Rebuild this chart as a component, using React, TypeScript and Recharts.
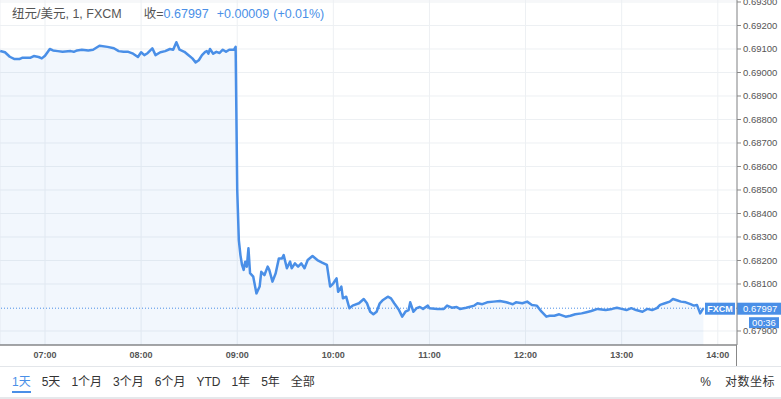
import { ComposedChart, Area, XAxis, YAxis, CartesianGrid, ReferenceLine } from "recharts";

const BLUE = "#4a8fe7";
const FONT = "'Liberation Sans', 'Noto Sans CJK SC', sans-serif";

const pairTitle = "纽元/美元, 1, FXCM";
const closeLabel = "收=";
const lastPrice = 0.67997;
const change = "+0.00009";
const changePct = "(+0.01%)";
const feedName = "FXCM";
const countdown = "00:36";

const rangeButtons = ["1天", "5天", "1个月", "3个月", "6个月", "YTD", "1年", "5年", "全部"];
const rightButtons = ["%", "对数坐标"];

const hourTicks = ["07:00", "08:00", "09:00", "10:00", "11:00", "12:00", "13:00", "14:00"];
const priceTicks = [0.679, 0.681, 0.682, 0.683, 0.684, 0.685, 0.686, 0.687, 0.688, 0.689, 0.69, 0.691, 0.692, 0.693];

const times = [
  "06:32", "06:35", "06:38", "06:41", "06:44", "06:46", "06:51", "06:53", "06:56", "06:58",
  "07:00", "07:03", "07:05", "07:08", "07:11", "07:16", "07:18", "07:20", "07:23", "07:27",
  "07:30", "07:34", "07:39", "07:43", "07:46", "07:49", "07:52", "07:55", "07:58", "08:00",
  "08:02", "08:04", "08:07", "08:09", "08:12", "08:15", "08:18", "08:20", "08:22", "08:24",
  "08:27", "08:30", "08:32", "08:34", "08:36", "08:38", "08:40", "08:41", "08:42", "08:43",
  "08:45", "08:47", "08:49", "08:51", "08:53", "08:55", "08:58", "08:59", "09:00", "09:01",
  "09:02", "09:03", "09:04", "09:05", "09:06", "09:07", "09:08", "09:10", "09:12", "09:14",
  "09:15", "09:17", "09:19", "09:20", "09:22", "09:24", "09:26", "09:28", "09:29", "09:31",
  "09:33", "09:34", "09:36", "09:38", "09:40", "09:42", "09:44", "09:47", "09:50", "09:53",
  "09:56", "09:58", "10:00", "10:02", "10:03", "10:05", "10:06", "10:08", "10:10", "10:12",
  "10:16", "10:19", "10:21", "10:23", "10:25", "10:27", "10:29", "10:31", "10:34", "10:36",
  "10:38", "10:41", "10:43", "10:45", "10:47", "10:48", "10:50", "10:52", "10:54", "10:56",
  "10:59", "11:00", "11:05", "11:09", "11:11", "11:14", "11:17", "11:19", "11:23", "11:28",
  "11:30", "11:33", "11:36", "11:40", "11:44", "11:48", "11:52", "11:54", "11:58", "12:01",
  "12:04", "12:07", "12:10", "12:13", "12:15", "12:18", "12:21", "12:25", "12:28", "12:31",
  "12:35", "12:38", "12:41", "12:45", "12:50", "12:54", "12:57", "13:00", "13:03", "13:06",
  "13:09", "13:13", "13:16", "13:19", "13:22", "13:24", "13:27", "13:30", "13:32", "13:34",
  "13:37", "13:40", "13:43", "13:45", "13:47", "13:49", "13:51",
];

const prices = [
  0.69092, 0.69086, 0.69067, 0.69057, 0.69057, 0.69063, 0.69063, 0.6907, 0.69066, 0.6906,
  0.69071, 0.691, 0.69094, 0.69091, 0.69088, 0.69091, 0.69088, 0.69094, 0.69097, 0.69094,
  0.69097, 0.69114, 0.69109, 0.69103, 0.69091, 0.69088, 0.69088, 0.6908, 0.69066, 0.69086,
  0.69074, 0.69082, 0.69103, 0.69074, 0.69086, 0.69091, 0.691, 0.69097, 0.69129, 0.69097,
  0.69088, 0.69071, 0.6906, 0.69043, 0.69052, 0.69074, 0.69088, 0.69091, 0.6908, 0.691,
  0.6908, 0.69088, 0.69083, 0.69097, 0.69088, 0.69097, 0.69097, 0.69109, 0.685, 0.68287,
  0.68223, 0.68181, 0.6816, 0.68195, 0.68174, 0.68252, 0.68146, 0.68131, 0.6806, 0.68089,
  0.68152, 0.68138, 0.68174, 0.6816, 0.6811, 0.68146, 0.68209, 0.68209, 0.68223, 0.68167,
  0.68195, 0.68167, 0.68188, 0.68174, 0.68188, 0.68167, 0.68202, 0.68219, 0.68202, 0.68191,
  0.68181, 0.68089, 0.68103, 0.68124, 0.68067, 0.68089, 0.68039, 0.68046, 0.67997, 0.68008,
  0.68018, 0.68036, 0.68018, 0.67982, 0.67971, 0.67982, 0.68018, 0.68032, 0.68046, 0.68039,
  0.68018, 0.67989, 0.67961, 0.67982, 0.67989, 0.68022, 0.67982, 0.67997, 0.68002, 0.67994,
  0.68008, 0.67997, 0.67994, 0.67994, 0.68008, 0.67999, 0.68002, 0.67994, 0.67999, 0.68008,
  0.68018, 0.68014, 0.68022, 0.68025, 0.68028, 0.68022, 0.68014, 0.68022, 0.68018, 0.68025,
  0.68011, 0.68008, 0.67982, 0.67961, 0.67965, 0.67965, 0.67971, 0.67961, 0.67965, 0.67971,
  0.67975, 0.6798, 0.67985, 0.67994, 0.67989, 0.67994, 0.67999, 0.67994, 0.67989, 0.67997,
  0.67989, 0.67982, 0.67994, 0.67989, 0.67997, 0.68011, 0.68018, 0.68025, 0.68036, 0.68032,
  0.68025, 0.68022, 0.68014, 0.68008, 0.68011, 0.67975, 0.67997,
];

const toMin = (s: string) => {
  const [h, m] = s.split(":").map(Number);
  return h * 60 + m;
};
const fmtTime = (v: number) =>
  `${String(Math.floor(v / 60)).padStart(2, "0")}:${String(Math.round(v % 60)).padStart(2, "0")}`;

const data = times.map((t, i) => ({ t: toMin(t), p: prices[i] }));

function PriceTag(props: any) {
  const vb = props.viewBox;
  if (!vb) return null;
  const right = vb.x + vb.width;
  const y = vb.y;
  return (
    <g fontFamily={FONT}>
      <rect x={right - 32} y={y - 5.5} width={30} height={12} fill={BLUE} />
      <text x={right - 17} y={y + 4} textAnchor="middle" fill="#fff" fontSize={9} fontWeight="bold">
        {feedName}
      </text>
      <rect x={right} y={y - 5.5} width={44} height={12} fill={BLUE} />
      <text x={right + 6} y={y + 4} fill="#fff" fontSize={9.5}>
        {lastPrice.toFixed(5)}
      </text>
      <rect x={right + 12} y={y + 9} width={30} height={11} fill={BLUE} />
      <text x={right + 27} y={y + 18} textAnchor="middle" fill="#fff" fontSize={9.5}>
        {countdown}
      </text>
    </g>
  );
}

export default function App() {
  return (
    <div
      style={{
        position: "absolute",
        top: 0,
        left: 0,
        width: 781,
        height: 399,
        background: "#fff",
        fontFamily: FONT,
        overflow: "hidden",
      }}
    >
      <ComposedChart width={781} height={366} data={data} margin={{ top: 0, right: 0, bottom: 0, left: 0 }}>
        <CartesianGrid stroke="#edf0f3" strokeWidth={1} />
        <XAxis
          dataKey="t"
          type="number"
          domain={[391.9, 852]}
          ticks={hourTicks.map(toMin)}
          tickFormatter={fmtTime}
          interval={0}
          height={21}
          allowDataOverflow
          stroke="#555"
          tickLine={false}
          tickSize={4}
          tick={{ fontSize: 9, fill: "#555", fontWeight: "bold" }}
          tickMargin={3}
        />
        <YAxis
          orientation="right"
          type="number"
          domain={[0.678404, 0.693085]}
          ticks={priceTicks}
          tickFormatter={(v: number) => v.toFixed(5)}
          interval={0}
          width={44}
          allowDataOverflow
          stroke="#888"
          tickSize={4}
          tickMargin={2}
          tick={{ fontSize: 9.5, fill: "#555" }}
        />
        <Area
          type="linear"
          dataKey="p"
          stroke={BLUE}
          strokeWidth={2.5}
          strokeLinejoin="round"
          fill={BLUE}
          fillOpacity={0.07}
          dot={false}
          activeDot={false}
          isAnimationActive={false}
        />
        <ReferenceLine
          y={lastPrice}
          stroke={BLUE}
          strokeDasharray="1 2"
          strokeWidth={1}
          label={<PriceTag />}
        />
      </ComposedChart>

      <div style={{ position: "absolute", left: 736, top: 345, width: 1, height: 21, background: "#888" }} />

      <div
        style={{
          position: "absolute",
          left: 12,
          top: 5,
          fontSize: 12.5,
          color: "#555",
          whiteSpace: "nowrap",
          lineHeight: "18px",
        }}
      >
        <span>{pairTitle}</span>
        <span style={{ marginLeft: 22 }}>{closeLabel}</span>
        <span style={{ color: BLUE }}>{lastPrice.toFixed(5)}</span>
        <span style={{ color: BLUE, marginLeft: 8 }}>{change}</span>
        <span style={{ color: BLUE, marginLeft: 4 }}>{changePct}</span>
      </div>

      <div style={{ position: "absolute", left: 0, top: 366, width: 781, height: 1, background: "#e3e6ea" }} />
      <div
        style={{
          position: "absolute",
          left: 12,
          top: 374,
          display: "flex",
          gap: 11,
          fontSize: 12,
          color: "#333",
          lineHeight: "16px",
          whiteSpace: "nowrap",
        }}
      >
        {rangeButtons.map((b, i) => (
          <span
            key={b}
            style={{
              color: i === 0 ? BLUE : "#333",
              borderBottom: i === 0 ? `2px solid ${BLUE}` : "2px solid transparent",
              paddingBottom: 1,
            }}
          >
            {b}
          </span>
        ))}
      </div>
      <div
        style={{
          position: "absolute",
          right: 6,
          top: 374,
          display: "flex",
          gap: 14,
          fontSize: 12,
          color: "#333",
          lineHeight: "16px",
          whiteSpace: "nowrap",
        }}
      >
        {rightButtons.map((b) => (
          <span key={b} style={{ letterSpacing: b.length > 1 ? 0.5 : 0 }}>{b}</span>
        ))}
      </div>
      <div style={{ position: "absolute", left: 0, top: 397, width: 781, height: 2, background: "#e6e8eb" }} />
    </div>
  );
}
